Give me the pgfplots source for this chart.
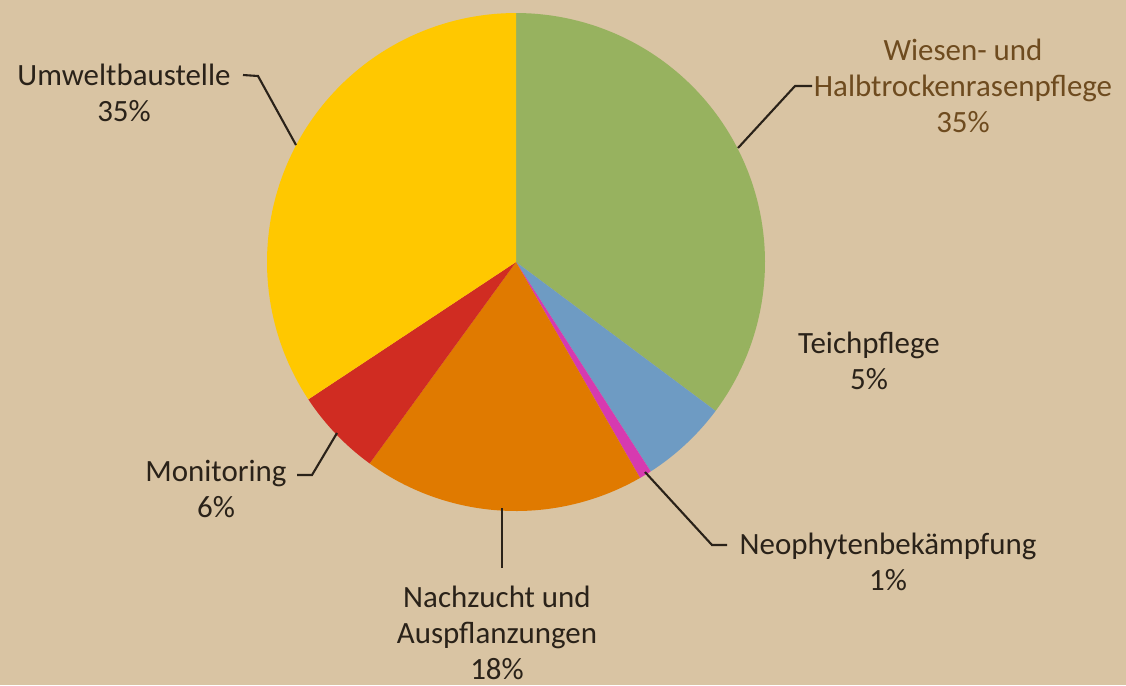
\documentclass[border=0pt]{standalone}
\usepackage{pgfplots}
\pgfplotsset{compat=1.18}
\usepackage{fontspec}
\setmainfont{Carlito}
\definecolor{bg}{HTML}{D9C4A3}
\definecolor{cW}{HTML}{97B25F}
\definecolor{cT}{HTML}{6E9BC3}
\definecolor{cN}{HTML}{D63AB0}
\definecolor{cA}{HTML}{E07A00}
\definecolor{cM}{HTML}{D02C22}
\definecolor{cU}{HTML}{FFC800}
\definecolor{txt}{HTML}{2A2219}
\definecolor{brn}{HTML}{6E4B1F}
% slice values (percent)
\def\vW{35.2}\def\vT{5.7}\def\vN{0.8}\def\vA{18.3}\def\vM{5.7}\def\vU{34.3}
\def\cx{516}\def\cy{423}\def\rr{249}
\tikzset{lbl/.style={font=\fontsize{8.8}{10.3}\selectfont, text=txt, align=center, inner sep=0pt}}
\begin{document}
\begin{tikzpicture}
\pgfmathsetmacro{\aA}{90}
\pgfmathsetmacro{\aB}{\aA-3.6*\vW}
\pgfmathsetmacro{\aC}{\aB-3.6*\vT}
\pgfmathsetmacro{\aD}{\aC-3.6*\vN}
\pgfmathsetmacro{\aE}{\aD-3.6*\vA}
\pgfmathsetmacro{\aF}{\aE-3.6*\vM}
\pgfmathsetmacro{\aG}{\aF-3.6*\vU}
\begin{axis}[
  width=11.26cm, height=6.85cm, scale only axis,
  xmin=0, xmax=1126, ymin=0, ymax=685,
  axis lines=none, ticks=none,
  axis background/.style={fill=bg},
  clip=false,
]
\addplot[fill=cW, draw=none, domain=\aB:\aA, samples=80, variable=\t] ({\cx+\rr*cos(\t)},{\cy+\rr*sin(\t)}) -- (axis cs:\cx,\cy) -- cycle;
\addplot[fill=cT, draw=none, domain=\aC:\aB, samples=30, variable=\t] ({\cx+\rr*cos(\t)},{\cy+\rr*sin(\t)}) -- (axis cs:\cx,\cy) -- cycle;
\addplot[fill=cN, draw=none, domain=\aD:\aC, samples=10, variable=\t] ({\cx+\rr*cos(\t)},{\cy+\rr*sin(\t)}) -- (axis cs:\cx,\cy) -- cycle;
\addplot[fill=cA, draw=none, domain=\aE:\aD, samples=50, variable=\t] ({\cx+\rr*cos(\t)},{\cy+\rr*sin(\t)}) -- (axis cs:\cx,\cy) -- cycle;
\addplot[fill=cM, draw=none, domain=\aF:\aE, samples=30, variable=\t] ({\cx+\rr*cos(\t)},{\cy+\rr*sin(\t)}) -- (axis cs:\cx,\cy) -- cycle;
\addplot[fill=cU, draw=none, domain=\aG:\aF, samples=80, variable=\t] ({\cx+\rr*cos(\t)},{\cy+\rr*sin(\t)}) -- (axis cs:\cx,\cy) -- cycle;
% leader lines
\addplot[txt, line width=0.6pt] coordinates {(243,610) (258,609) (296,540)};
\addplot[txt, line width=0.6pt] coordinates {(738,537) (795,599) (812,599)};
\addplot[txt, line width=0.6pt] coordinates {(645,213) (712,140) (727,140)};
\addplot[txt, line width=0.6pt] coordinates {(502,177) (502,117)};
\addplot[txt, line width=0.6pt] coordinates {(297,210) (312,210) (337,252)};
% labels
\node[lbl] at (axis cs:124,592) {Umweltbaustelle\\35\%};
\node[lbl, text=brn] at (axis cs:963,599) {Wiesen- und\\Halbtrockenrasenpflege\\35\%};
\node[lbl] at (axis cs:869,324) {Teichpflege\\5\%};
\node[lbl] at (axis cs:888,123) {Neophytenbekämpfung\\1\%};
\node[lbl] at (axis cs:497,52) {Nachzucht und\\Auspflanzungen\\18\%};
\node[lbl] at (axis cs:216,196) {Monitoring\\6\%};
\end{axis}
\end{tikzpicture}
\end{document}
